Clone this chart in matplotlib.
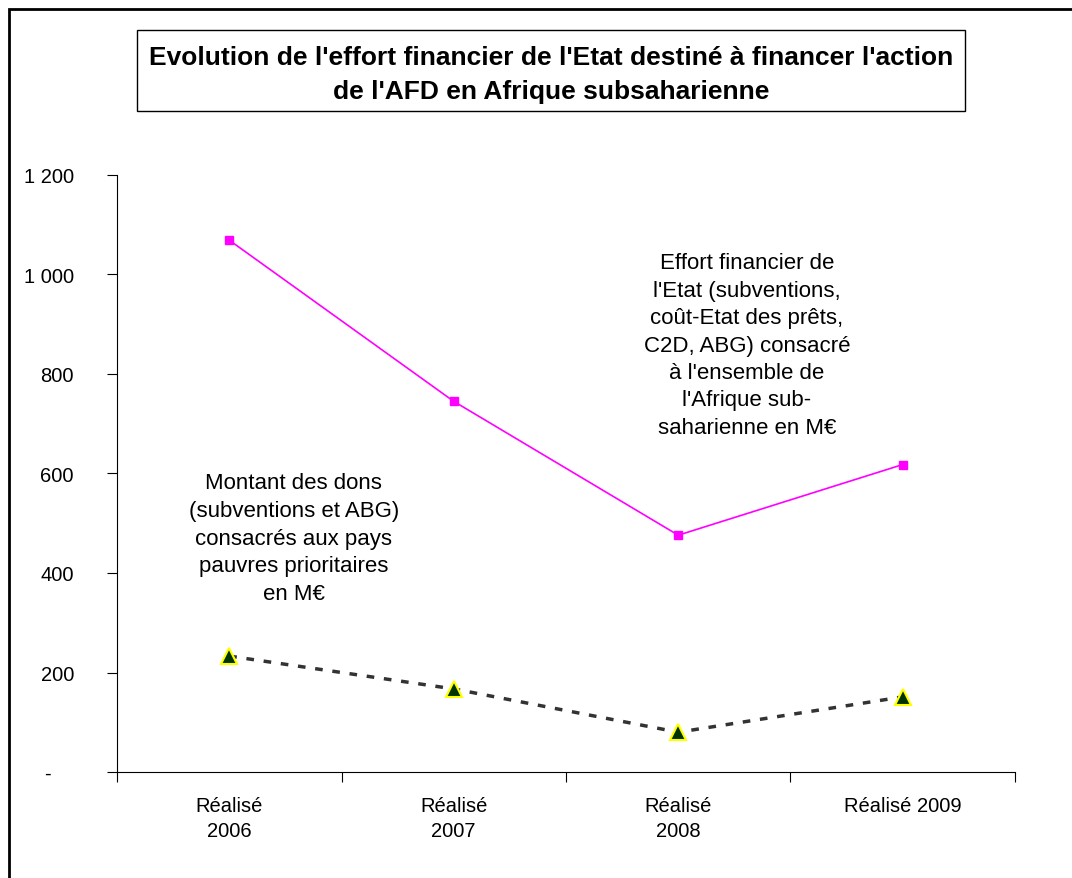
import matplotlib
matplotlib.use("Agg")
from matplotlib import pyplot as plt
from matplotlib.patches import Rectangle

plt.rcParams['font.family'] = ['Liberation Sans', 'DejaVu Sans']

categories = ["Réalisé\n2006", "Réalisé\n2007", "Réalisé\n2008", "Réalisé 2009"]
effort_total = [1069, 745, 476, 618]
dons_ppp = [233, 167, 80, 151]
y_ticks = [0, 200, 400, 600, 800, 1000, 1200]
y_labels = ["-    ", "200", "400", "600", "800", "1 000", "1 200"]

W, H = 1072, 879
fig = plt.figure(figsize=(W / 100, H / 100), dpi=100)

# outer frame (right and bottom edges fall outside the image)
fig.patches.append(Rectangle((9 / W, -0.1), 1.2, 1 - 10 / H + 0.1, transform=fig.transFigure,
                             fill=False, edgecolor="black", linewidth=2))

ax = fig.add_axes([117 / W, 1 - 773 / H, (1015 - 117) / W, (773 - 176) / H])
x = range(len(categories))

ax.plot(x, effort_total, color="#ff00ff", linewidth=1.2, marker="s", markersize=6,
        markerfacecolor="#ff00ff", markeredgecolor="#ff00ff")
ax.plot(x, dons_ppp, color="#333333", linewidth=2.5, linestyle=(0, (2.2, 2.8)),
        marker="^", markersize=11, markerfacecolor="#003300", markeredgecolor="#ffff00",
        markeredgewidth=1.5)

ax.set_xlim(-0.5, len(categories) - 0.5)
ax.set_ylim(0, 1200)
ax.set_yticks(y_ticks)
ax.set_yticklabels(y_labels, fontsize=14.5)
ax.tick_params(axis="y", direction="out", length=7, width=0.8, pad=24)
for lbl in ax.get_yticklabels():
    lbl.set_horizontalalignment("right")

ax.set_xticks([i - 0.5 for i in range(len(categories) + 1)])
ax.set_xticklabels([])
ax.set_xticks(list(x), minor=True)
ax.set_xticklabels(categories, minor=True, fontsize=14.5, linespacing=1.4)
ax.tick_params(axis="x", which="major", direction="out", length=7, width=0.8)
ax.tick_params(axis="x", which="minor", length=0, pad=17)

for s in ["top", "right"]:
    ax.spines[s].set_visible(False)
for s in ["left", "bottom"]:
    ax.spines[s].set_linewidth(0.8)

ax.text(2.306, 858, "Effort financier de\nl'Etat (subventions,\ncoût-Etat des prêts,\n"
        "C2D, ABG) consacré\nà l'ensemble de\nl'Afrique sub-\nsaharienne en M€",
        ha="center", va="center", fontsize=16, linespacing=1.4)
ax.text(0.288, 470, "Montant des dons\n(subventions et ABG)\nconsacrés aux pays\n"
        "pauvres prioritaires\nen M€",
        ha="center", va="center", fontsize=16, linespacing=1.42)

fig.text(551 / W, 1 - 75 / H,
         "Evolution de l'effort financier de l'Etat destiné à financer l'action\n"
         "de l'AFD en Afrique subsaharienne",
         ha="center", va="center", fontsize=19, fontweight="bold", linespacing=1.55)
fig.patches.append(Rectangle((137 / W, 1 - 112 / H), (965 - 137) / W, 81 / H,
                             transform=fig.transFigure, fill=False,
                             edgecolor="black", linewidth=1))

fig.savefig("out.png", dpi=100)
